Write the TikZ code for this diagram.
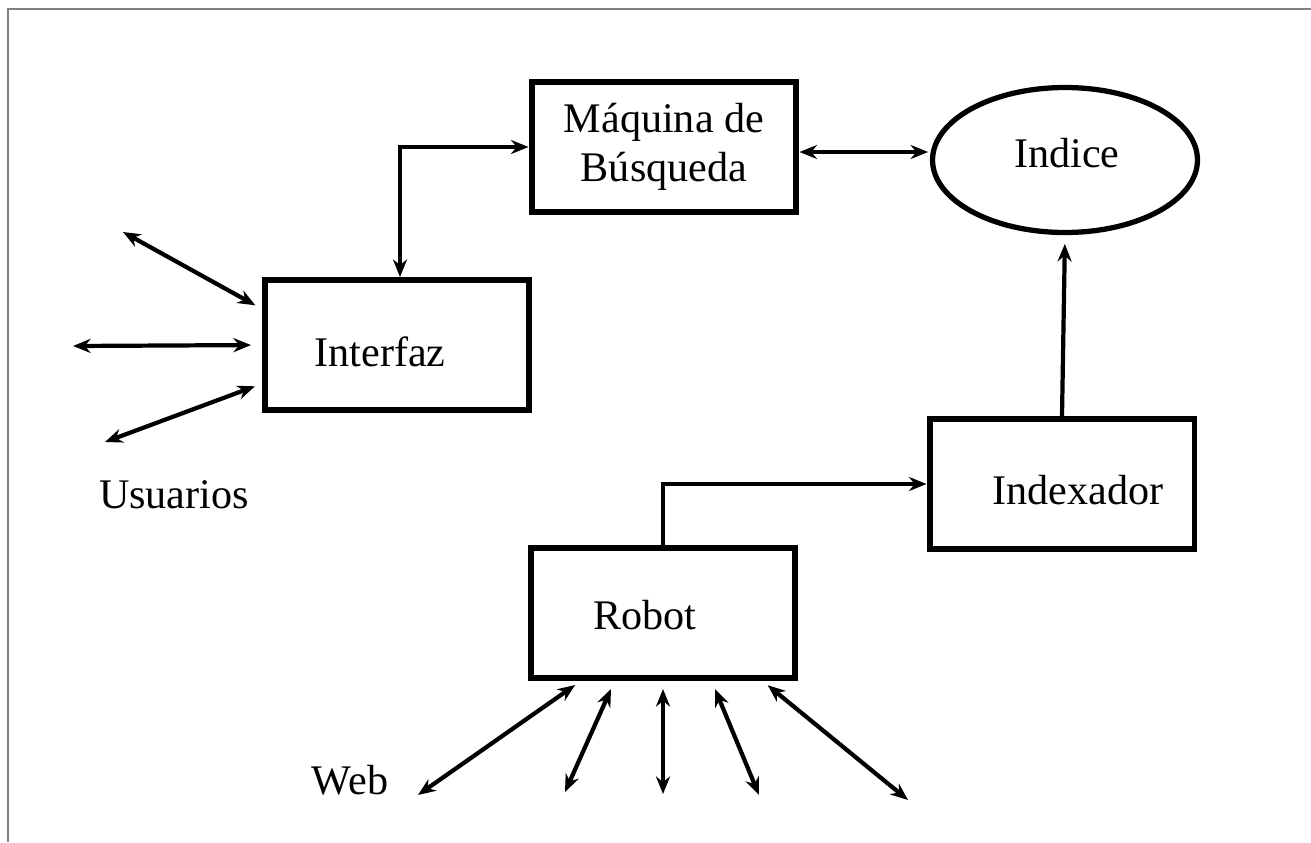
\documentclass[tikz,border=0pt]{standalone}
\usepackage{fontspec}
\setmainfont{Liberation Serif}
\usetikzlibrary{arrows.meta,shapes.geometric}
\begin{document}
\begin{tikzpicture}[x=0.02cm,y=-0.02cm,
	font=\fontsize{24}{28}\selectfont,
	caja/.style={draw,line width=3.4pt,minimum width=5.3cm,minimum height=2.6cm,inner sep=0pt},
	flecha/.style={line width=2.4pt,{Stealth[length=10pt,width=8pt]}-{Stealth[length=10pt,width=8pt]}},
	sola/.style={line width=2.4pt,-{Stealth[length=10pt,width=8pt]}}]
		\useasboundingbox (0,0) rectangle (1311,842);
		\draw[gray,line width=1.2pt] (1311,9) -- (8,9) -- (8,842);
		
		\node[caja,align=center] at (664,147) (maquina) {Máquina de\\Búsqueda};
		\node[draw,ellipse,line width=3pt,minimum width=5.3cm,minimum height=2.9cm,inner sep=0pt] at (1065,160) (indice) {};
		\node at (1067,153) (indicetxt) {Indice};
		\node[caja] at (397,345) (interfaz) {};
		\node at (380,352) (interfaztxt) {Interfaz};
		\node[caja] at (1062,484) (indexador) {};
		\node at (1078,490) (indexadortxt) {Indexador};
		\node[caja] at (663,613) (robot) {};
		\node at (645,615) (robottxt) {Robot};
		
		\node at (174,495) (usuarios) {Usuarios};
		\node at (350,780) (web) {Web};
		
		\draw[flecha] (interfaz.north -| 400,0) |- (maquina.west);
		\draw[flecha,shorten >=1pt] (maquina.east |- 0,152) -- (indice.west |- 0,152);
		\draw[sola,shorten >=5pt] (indexador.north) -- (indice.south);
		\draw[sola] (robot.north) |- (indexador.west);
		
		\coordinate (u1) at (123,232);
		\coordinate (u2) at (73,346);
		\coordinate (u3) at (105,442);
		\draw[flecha,shorten <=4pt] (interfaz.165) -- (u1);
		\draw[flecha,shorten <=6pt] (interfaz.west) -- (u2);
		\draw[flecha,shorten <=4pt] (interfaz.196) -- (u3);
		
		\coordinate (w1) at (418,795);
		\coordinate (w2) at (565,792);
		\coordinate (w3) at (663,794);
		\coordinate (w4) at (759,795);
		\coordinate (w5) at (908,800);
		\draw[flecha,shorten <=2pt] (578,683) -- (w1);
		\draw[flecha] (611,689) -- (w2);
		\draw[flecha] (663,689) -- (w3);
		\draw[flecha] (715,689) -- (w4);
		\draw[flecha,shorten <=2pt] (765,683) -- (w5);
\end{tikzpicture}
\end{document}
